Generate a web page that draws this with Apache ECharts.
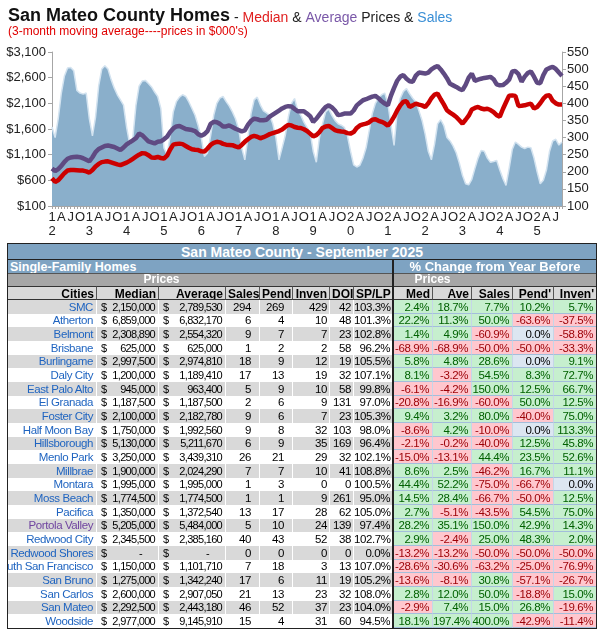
<!DOCTYPE html>
<html>
<head>
<meta charset="utf-8">
<script src="https://cdn.jsdelivr.net/npm/echarts@6/dist/echarts.min.js"></script>
<style>
body { margin: 0; background: #fff; font-family: "Liberation Sans", Arial, sans-serif; }
#chartmain { position: absolute; left: 0; top: 0; width: 605px; height: 242px; }
#tbl { position: absolute; left: 0; top: 0; width: 605px; height: 634px; pointer-events: none; }
.c { position: absolute; box-sizing: border-box; overflow: hidden; white-space: nowrap; font-size: 11px; letter-spacing: -0.4px; color: #000; }
</style>
</head>
<body>
<div id="chartmain"></div>
<div id="tbl"></div>
<script>
// chart data: 3-month moving averages, Jan 2012 - Sep 2025
var years = ['12', '13', '14', '15', '16', '17', '18', '19', '20', '21', '22', '23', '24', '25'];
var quarterLetters = ['', 'A', 'J', 'O'];

var sales = [
	331, 300, 355, 430, 480, 503, 505, 495, 438, 430, 427, 430,
	355, 305, 360, 450, 500, 510, 500, 470, 445, 425, 410, 395,
	330, 280, 300, 395, 450, 465, 467, 458, 448, 433, 420, 385,
	270, 250, 305, 375, 405, 418, 425, 420, 404, 385, 365, 335,
	300, 245, 255, 305, 365, 400, 415, 420, 405, 392, 375, 355,
	326, 270, 235, 300, 370, 410, 418, 395, 378, 372, 365, 340,
	300, 235, 270, 306, 360, 400, 414, 380, 365, 345, 330, 316,
	260, 228, 300, 340, 375, 384, 365, 350, 340, 336, 330, 305,
	260, 220, 214, 219, 240, 270, 320, 370, 400, 415, 425, 430,
	400, 336, 277, 375, 415, 435, 443, 428, 415, 404, 378, 350,
	310, 260, 235, 280, 340, 352, 335, 300, 290, 275, 255, 225,
	190, 165, 162, 178, 210, 240, 262, 260, 240, 228, 230, 233,
	205, 180, 160, 210, 265, 287, 280, 272, 268, 272, 270, 240,
	200, 165, 175, 205, 260, 290, 295, 278, 287
];
var median = [
	640, 570, 600, 670, 740, 790, 800, 800, 795, 790, 790, 775,
	750, 800, 870, 920, 955, 965, 970, 950, 930, 910, 895, 920,
	945, 980, 1020, 1060, 1100, 1130, 1125, 1090, 1045, 1040, 1055, 1035,
	1025, 1080, 1200, 1295, 1310, 1315, 1305, 1270, 1235, 1205, 1195, 1190,
	1165, 1160, 1220, 1290, 1330, 1350, 1340, 1310, 1295, 1290, 1285, 1260,
	1240, 1290, 1350, 1400, 1445, 1465, 1450, 1420, 1440, 1470, 1500, 1520,
	1540, 1560, 1590, 1640, 1680, 1670, 1640, 1625, 1620, 1595, 1560, 1510,
	1455, 1480, 1540, 1620, 1650, 1660, 1620, 1580, 1560, 1550, 1545, 1520,
	1510, 1540, 1620, 1670, 1690, 1705, 1730, 1780, 1790, 1760, 1740, 1710,
	1665, 1740, 1840, 1960, 2060, 2130, 2140, 2030, 2060, 2095, 2075, 2060,
	2030, 2100, 2200, 2270, 2290, 2180, 2080, 1965, 1920, 1880, 1835, 1770,
	1705, 1780, 1860, 1980, 2010, 2030, 2000, 1985, 1995, 1970, 1930, 1870,
	1840, 1990, 2120, 2250, 2255, 2245, 2050, 2055, 2062, 2080, 2095, 2000,
	2030, 2100, 2190, 2250, 2257, 2150, 2100, 2075, 2075
];
var average = [
	830, 780, 820, 880, 960, 1020, 1045, 1055, 1060, 1050, 1030, 1000,
	970, 1050, 1150, 1210, 1240, 1270, 1280, 1265, 1250, 1220, 1190, 1240,
	1300, 1340, 1380, 1420, 1510, 1480, 1420, 1360, 1340, 1320, 1350, 1360,
	1400, 1450, 1540, 1610, 1650, 1660, 1630, 1600, 1590, 1580, 1560, 1500,
	1470, 1500, 1560, 1700, 1740, 1730, 1700, 1650, 1650, 1670, 1640, 1605,
	1580, 1555, 1575, 1680, 1760, 1800, 1790, 1770, 1770, 1780, 1840, 1880,
	1920, 1960, 2000, 2030, 2045, 2040, 1990, 1945, 1945, 1945, 1900, 1850,
	1740, 1800, 1880, 1960, 2030, 2060, 2020, 1960, 1870, 1880, 1900, 1900,
	1900, 1960, 2060, 2110, 2160, 2180, 2205, 2230, 2244, 2200, 2140, 2095,
	2062, 2250, 2400, 2540, 2620, 2650, 2580, 2530, 2520, 2640, 2700, 2690,
	2680, 2700, 2760, 2800, 2828, 2760, 2680, 2590, 2480, 2450, 2420, 2380,
	2355, 2460, 2600, 2680, 2540, 2560, 2580, 2595, 2605, 2615, 2570, 2470,
	2450, 2455, 2500, 2560, 2720, 2730, 2670, 2520, 2620, 2690, 2720, 2620,
	2500, 2490, 2650, 2760, 2790, 2810, 2770, 2700, 2634
];

// table data: September 2025
var cities = ['SMC', 'Atherton', 'Belmont', 'Brisbane', 'Burlingame', 'Daly City', 'East Palo Alto', 'El Granada',
	'Foster City', 'Half Moon Bay', 'Hillsborough', 'Menlo Park', 'Millbrae', 'Montara', 'Moss Beach', 'Pacifica',
	'Portola Valley', 'Redwood City', 'Redwood Shores', 'South San Francisco', 'San Bruno', 'San Carlos', 'San Mateo', 'Woodside'];
var medPrice = [2150000, 6859000, 2308890, 625000, 2997500, 1200000, 945000, 1187500, 2100000, 1750000, 5130000, 3250000,
	1900000, 1995000, 1774500, 1350000, 5205000, 2345500, 0, 1150000, 1275000, 2600000, 2292500, 2977000];
var avgPrice = [2789530, 6832170, 2554320, 625000, 2974810, 1189410, 963400, 1187500, 2182780, 1992560, 5211670, 3439310,
	2024290, 1995000, 1774500, 1372540, 5484000, 2385160, 0, 1101710, 1342240, 2907050, 2443180, 9145910];
var salesCnt = [294, 6, 9, 1, 18, 17, 5, 2, 9, 9, 6, 26, 7, 1, 1, 13, 5, 40, 0, 7, 17, 21, 46, 15];
var pendCnt = [269, 4, 7, 2, 9, 13, 9, 6, 6, 8, 9, 21, 7, 3, 1, 17, 10, 43, 0, 18, 6, 13, 52, 4];
var invenCnt = [429, 10, 7, 2, 12, 19, 10, 9, 7, 32, 35, 29, 10, 0, 9, 28, 24, 52, 0, 3, 11, 23, 37, 31];
var doi = [42, 48, 23, 58, 19, 32, 58, 131, 23, 103, 169, 32, 41, 0, 261, 62, 139, 38, 0, 13, 19, 32, 23, 60];
var spLp = [103.3, 101.3, 102.8, 96.2, 105.5, 107.1, 99.8, 97.0, 105.3, 98.0, 96.4, 102.1, 108.8, 100.5, 95.0, 105.0,
	97.4, 102.7, 0.0, 107.0, 105.2, 108.0, 104.0, 94.5];
var chgMed = [2.4, 22.2, 1.4, -68.9, 5.8, 8.1, -6.1, -20.8, 9.4, -8.6, -2.1, -15.0, 8.6, 44.4, 14.5, 2.7, 28.2, 2.9,
	-13.2, -28.6, -13.6, 2.8, -2.9, 18.1];
var chgAve = [18.7, 11.3, 4.9, -68.9, 4.8, -3.2, -4.2, -16.9, 3.2, 4.2, -0.2, -13.1, 2.5, 52.2, 28.4, -5.1, 35.1, -2.4,
	-13.2, -30.6, -8.1, 12.0, 7.4, 197.4];
var chgSales = [7.7, 50.0, -60.9, -50.0, 28.6, 54.5, 150.0, -60.0, 80.0, -10.0, -40.0, 44.4, -46.2, -75.0, -66.7, -43.5,
	150.0, 25.0, -50.0, -63.2, 30.8, 50.0, 15.0, 400.0];
var chgPend = [10.2, -63.6, 0.0, -50.0, 0.0, 8.3, 12.5, 50.0, -40.0, 0.0, 12.5, 23.5, 16.7, -66.7, -50.0, 54.5, 42.9,
	48.3, -50.0, -25.0, -57.1, -18.8, 26.8, -42.9];
var chgInven = [5.7, -37.5, -58.8, -33.3, 9.1, 72.7, 66.7, 12.5, 75.0, 113.3, 45.8, 52.6, 11.1, 0.0, 12.5, 75.0, 14.3,
	2.0, -50.0, -76.9, -26.7, 15.0, -19.6, -11.4];

// category axis: one entry per month
var months = [];
years.forEach(function(y) {
	for (var m = 1; m <= 12; m++) months.push(y + '-' + m);
});
months = months.slice(0, median.length);

var font = '"Liberation Sans", Arial, sans-serif';
var axisGrey = '#a6a6a6';

function richPart(size, color, weight) {
	return { fontSize : size, color : color, fontWeight : weight || 'normal', fontFamily : font, verticalAlign : 'bottom', lineHeight : 20 };
}

var option = {
	animation : false,
	textStyle : { fontFamily : font },
	title : [ {
		left : 3,
		top : 0,
		text : '{a|San Mateo County Homes}{b| - }{r|Median}{b| & }{p|Average}{b| Prices & }{s|Sales}',
		textStyle : {
			fontWeight : 'normal',
			rich : {
				a : richPart(18, '#111', 'bold'),
				b : richPart(14, '#222'),
				r : richPart(14, '#e02020'),
				p : richPart(14, '#7a58a8'),
				s : richPart(14, '#3a8fd6')
			}
		}
	}, {
		left : 3,
		top : 21,
		text : "(3-month moving average----prices in $000's)",
		textStyle : { fontSize : 12, fontWeight : 'normal', color : '#e00000', fontFamily : font }
	} ],
	grid : {
		left : 52,
		right : 43,
		top : 52,
		bottom : 36
	},
	xAxis : {
		type : 'category',
		boundaryGap : false,
		data : months,
		axisLine : { lineStyle : { color : axisGrey } },
		axisTick : { show : true, interval : 0, length : 3, lineStyle : { color : axisGrey } },
		axisLabel : {
			interval : function(i) { return i % 3 === 0; },
			color : '#222',
			fontSize : 13,
			lineHeight : 14,
			margin : 4,
			formatter : function(v) {
				var p = v.split('-');
				var m = +p[1];
				if (m === 1) return p[0].charAt(0) + '\n' + p[0].charAt(1);
				return quarterLetters[(m - 1) / 3] || '';
			}
		},
		splitLine : { show : false }
	},
	yAxis : [ {
		type : 'value',
		min : 100,
		max : 3100,
		interval : 500,
		axisLine : { show : true, lineStyle : { color : axisGrey } },
		axisTick : { show : true, length : 4, lineStyle : { color : axisGrey } },
		splitLine : { show : false },
		axisLabel : {
			color : '#222',
			fontSize : 13,
			margin : 6,
			formatter : function(v) { return '$' + v.toLocaleString('en-US'); }
		}
	}, {
		type : 'value',
		position : 'right',
		min : 100,
		max : 550,
		interval : 50,
		axisLine : { show : true, lineStyle : { color : axisGrey } },
		axisTick : { show : true, length : 4, lineStyle : { color : axisGrey } },
		splitLine : { show : false },
		axisLabel : { color : '#222', fontSize : 13, margin : 5 }
	} ],
	series : [ {
		name : 'Sales',
		type : 'line',
		yAxisIndex : 1,
		data : sales,
		symbol : 'none',
		lineStyle : { width : 1.5, color : '#d3e3f0' },
		areaStyle : { color : '#8aafcb', opacity : 1 },
		z : 1
	}, {
		name : 'Median',
		type : 'line',
		data : median,
		symbol : 'none',
		lineStyle : { width : 4.5, color : '#cc0000' },
		z : 3
	}, {
		name : 'Average',
		type : 'line',
		data : average,
		symbol : 'none',
		lineStyle : { width : 4.5, color : '#5f4a82' },
		z : 3
	} ]
};

var myChart = echarts.init(document.getElementById('chartmain'));
myChart.setOption(option);

// ---- table below the chart ----
var tbl = document.getElementById('tbl');
function cell(x, y, w, h, txt, css) {
	var d = document.createElement('div');
	d.className = 'c';
	d.style.cssText = 'left:' + x + 'px;top:' + y + 'px;width:' + w + 'px;height:' + h + 'px;line-height:' + h + 'px;' + (css || '');
	if (txt !== null) d.textContent = txt;
	tbl.appendChild(d);
	return d;
}

var colX = [7, 97, 159, 226, 260, 293, 330, 354, 393, 433, 472, 513, 554, 597];
function cw(i) { return colX[i + 1] - colX[i]; }

var blue = '#7ea3c2';
var greyDark = '#a6a6a6';
var greyLight = '#d9d9d9';

// title row
cell(7, 243, 590, 16, 'San Mateo County - September 2025',
	'background:' + blue + ';color:#fff;font-weight:bold;font-size:14px;text-align:center;letter-spacing:0;border-top:1px solid #222;');
// section row
cell(7, 259, 386, 14, 'Single-Family Homes',
	'background:' + blue + ';color:#fff;font-weight:bold;font-size:12.5px;padding-left:3px;letter-spacing:0;border-top:1px solid #222;');
cell(393, 259, 204, 14, '% Change from Year Before',
	'background:' + blue + ';color:#fff;font-weight:bold;font-size:13px;text-align:center;letter-spacing:0;border-top:1px solid #222;');
// prices row
cell(7, 273, 386, 13, null, 'background:' + greyDark + ';border-top:1px solid #555;');
cell(97, 273, 129, 13, 'Prices', 'color:#fff;font-weight:bold;font-size:12px;text-align:center;letter-spacing:0;');
cell(393, 273, 204, 13, null, 'background:' + greyDark + ';border-top:1px solid #555;');
cell(393, 273, 79, 13, 'Prices', 'color:#fff;font-weight:bold;font-size:12px;text-align:center;letter-spacing:0;');

// header row
var heads = ['Cities', 'Median', 'Average', 'Sales', 'Pend', 'Inven', 'DOI', 'SP/LP', 'Med', 'Ave', 'Sales', "Pend'", "Inven'"];
var headAlign = ['right', 'right', 'right', 'center', 'center', 'right', 'center', 'right', 'right', 'right', 'right', 'right', 'right'];
heads.forEach(function(h, i) {
	cell(colX[i], 286, cw(i), 14, h,
		'background:' + greyLight + ';font-weight:bold;font-size:12px;text-align:' + headAlign[i] +
		';padding:0 2px;border-top:1px solid #333;border-bottom:1px solid #333;border-right:1px solid #555;letter-spacing:0;');
});

function money(v) {
	return v ? v.toLocaleString('en-US') : '-';
}
function pct(v) {
	return v.toFixed(1) + '%';
}

var rowTop = 300, rowH = 13.67;
cities.forEach(function(name, r) {
	var y = Math.round(rowTop + r * rowH);
	var h = Math.round(rowTop + (r + 1) * rowH) - y;
	var bg = r % 2 === 0 ? greyLight : '#fff';
	var base = 'background:' + bg + ';border-right:1px solid #fff;font-size:11.5px;';

	// city name, clipped on the left when too long
	var c = cell(colX[0], y, cw(0), h, null,
		base + 'display:flex;justify-content:flex-end;padding-right:3px;');
	var sp = document.createElement('span');
	sp.textContent = name;
	sp.style.cssText = 'flex-shrink:0;color:' + (name === 'Portola Valley' ? '#7045a0' : '#1f64c0') + ';';
	c.appendChild(sp);

	[medPrice[r], avgPrice[r]].forEach(function(v, k) {
		var m = cell(colX[1 + k], y, cw(1 + k), h, null,
			base + 'font-size:11px;letter-spacing:-0.7px;display:flex;justify-content:space-between;padding:0 ' + (v ? 3 : 16) + 'px 0 4px;');
		var a = document.createElement('span');
		a.textContent = '$';
		var b = document.createElement('span');
		b.textContent = money(v);
		m.appendChild(a);
		m.appendChild(b);
	});

	var plain = [salesCnt[r], pendCnt[r], invenCnt[r], doi[r], pct(spLp[r])];
	plain.forEach(function(v, k) {
		cell(colX[3 + k], y, cw(3 + k), h, String(v),
			base + 'text-align:right;padding-right:' + (k < 2 ? 8 : 2) + 'px;');
	});

	var chg = [chgMed[r], chgAve[r], chgSales[r], chgPend[r], chgInven[r]];
	chg.forEach(function(v, k) {
		var bgc, fg;
		if (v > 0) { bgc = '#c6efce'; fg = '#006100'; }
		else if (v < 0) { bgc = '#ffc7ce'; fg = '#9c0006'; }
		else { bgc = '#dce6f1'; fg = '#000'; }
		cell(colX[8 + k], y, cw(8 + k), h, pct(v),
			'background:' + bgc + ';color:' + fg + ';text-align:right;padding-right:3px;font-size:11.5px;' +
			'border-bottom:1px solid #a3bedb;border-right:1px solid #c5d6e8;');
	});
});

// outer frame and the divider between the two halves
var bottomY = Math.round(rowTop + cities.length * rowH);
cell(7, 243, 590, bottomY - 243 + 1, null, 'border:1px solid #222;');
cell(392, 259, 2, bottomY - 259, null, 'background:#222;');
</script>
</body>
</html>
